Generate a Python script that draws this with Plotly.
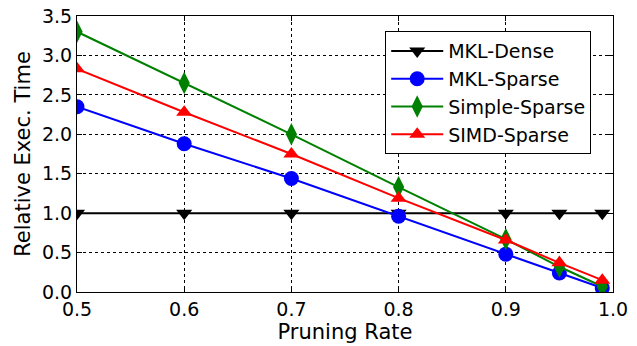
import plotly.graph_objects as go

pruning_rate = [0.5, 0.6, 0.7, 0.8, 0.9, 0.95, 0.99]
mkl_dense = [1.0, 1.0, 1.0, 1.0, 1.0, 1.0, 1.0]
mkl_sparse = [2.35, 1.88, 1.44, 0.96, 0.48, 0.24, 0.05]
simple_sparse = [3.30, 2.65, 2.00, 1.33, 0.67, 0.32, 0.07]
simd_sparse = [2.83, 2.28, 1.75, 1.19, 0.66, 0.37, 0.15]

series = [
    ("MKL-Dense", mkl_dense, "black", "triangle-down", 14),
    ("MKL-Sparse", mkl_sparse, "blue", "circle", 15),
    ("Simple-Sparse", simple_sparse, "green", "diamond-tall", 16),
    ("SIMD-Sparse", simd_sparse, "red", "triangle-up", 14),
]

fig = go.Figure()
for name, vals, color, sym, sz in series:
    fig.add_trace(go.Scatter(
        x=pruning_rate, y=vals, name=name, mode="lines+markers",
        line=dict(color=color, width=2),
        marker=dict(symbol=sym, size=sz, color=color, line=dict(width=0)),
    ))

font = "DejaVu Sans"
axis_common = dict(
    showline=True, linecolor="black", linewidth=1, mirror="allticks",
    ticks="inside", ticklen=5, tickcolor="black",
    showgrid=True, gridcolor="black", griddash="dot", gridwidth=1,
    zeroline=False, tickfont=dict(family=font, size=19, color="black"),
    tickformat=".1f", automargin=False,
)
fig.update_xaxes(range=[0.5, 1.0], dtick=0.1, tick0=0.5,
                 title=dict(text="Pruning Rate", font=dict(family=font, size=21, color="black"), standoff=0),
                 **axis_common)
fig.update_yaxes(range=[0, 3.5], dtick=0.5, tick0=0,
                 title=dict(text="Relative Exec. Time", font=dict(family=font, size=21, color="black"), standoff=5),
                 **axis_common)
fig.update_layout(
    width=637, height=346,
    margin=dict(l=77, r=24, t=16, b=54),
    plot_bgcolor="white", paper_bgcolor="white",
    font=dict(family=font, color="black"),
    legend=dict(x=0.575, y=0.945, xanchor="left", yanchor="top",
                bgcolor="white", bordercolor="black", borderwidth=1,
                font=dict(family=font, size=19, color="black"),
                itemwidth=52, tracegroupgap=0),
    showlegend=True,
)
fig.write_html("out.html", config={"displayModeBar": False},
               post_script="document.body.style.margin='0';document.body.style.overflow='hidden';")
